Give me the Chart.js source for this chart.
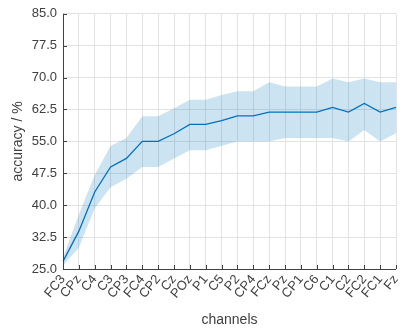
<!DOCTYPE html>
<html>
<head>
<meta charset="utf-8">
<script src="https://cdn.jsdelivr.net/npm/chart.js@4"></script>
<style>
  html, body { margin: 0; padding: 0; background: #fff; }
  #wrap { width: 414px; height: 329px; }
</style>
</head>
<body>
<div id="wrap"><canvas id="accChart" width="414" height="329"></canvas></div>
<script>
'use strict';

// Channels in the order they were added
const channels = [
  'FC3', 'CPz', 'C4', 'C3', 'CP3', 'FC4', 'CP2', 'Cz', 'POz', 'P1', 'C5',
  'P2', 'CP4', 'FCz', 'Pz', 'CP1', 'C6', 'C1', 'C2', 'FC2', 'FC1', 'Fz'
];

// Mean accuracy and the spread band around it
const meanAcc = [
  26.8, 33.9, 43.1, 49.0, 51.0, 55.0, 55.0, 56.8, 59.0, 59.0, 59.9,
  61.0, 61.0, 61.9, 61.9, 61.9, 61.9, 63.0, 61.9, 63.9, 61.9, 63.0
];
const upperAcc = [
  27.7, 37.8, 47.1, 53.9, 55.8, 60.9, 60.9, 62.8, 64.8, 64.8, 65.9,
  66.8, 66.8, 68.9, 67.9, 67.9, 67.9, 69.8, 68.9, 69.8, 68.9, 68.9
];
const lowerAcc = [
  25.8, 30.0, 39.3, 44.2, 46.2, 49.0, 49.0, 51.0, 52.9, 52.9, 54.0,
  55.0, 55.0, 55.0, 55.8, 55.8, 55.8, 55.8, 55.0, 57.7, 55.0, 56.9
];

const yTicks = [25, 32.5, 40, 47.5, 55, 62.5, 70, 77.5, 85];

const axisColor = '#404040';
const gridColor = '#e3e3e3';
const fontFamily = '"Liberation Sans", Arial, Helvetica, sans-serif';

// MATLAB style ticks point into the plot area
const inwardTicks = {
  id: 'inwardTicks',
  afterDraw(chart) {
    const ctx = chart.ctx;
    const area = chart.chartArea;
    const xs = chart.scales.x;
    const ys = chart.scales.y;
    ctx.save();
    ctx.strokeStyle = axisColor;
    ctx.lineWidth = 1;
    ctx.beginPath();
    xs.ticks.forEach((t, i) => {
      const px = Math.round(xs.getPixelForTick(i)) + 0.5;
      ctx.moveTo(px, area.bottom);
      ctx.lineTo(px, area.bottom - 4);
    });
    ys.ticks.forEach((t, i) => {
      const py = Math.round(ys.getPixelForTick(i)) + 0.5;
      ctx.moveTo(area.left, py);
      ctx.lineTo(area.left + 4, py);
    });
    // left and bottom axis lines
    ctx.moveTo(area.left + 0.5, area.top);
    ctx.lineTo(area.left + 0.5, area.bottom + 0.5);
    ctx.lineTo(area.right, area.bottom + 0.5);
    ctx.stroke();
    ctx.restore();
  }
};

new Chart(document.getElementById('accChart'), {
  type: 'line',
  data: {
    labels: channels,
    datasets: [
      {
        label: 'lower',
        data: lowerAcc,
        borderWidth: 0,
        pointRadius: 0,
        fill: false,
        tension: 0
      },
      {
        label: 'upper',
        data: upperAcc,
        borderWidth: 0,
        pointRadius: 0,
        backgroundColor: 'rgba(0, 114, 189, 0.2)',
        fill: '-1',
        tension: 0
      },
      {
        label: 'mean',
        data: meanAcc,
        borderColor: '#0072BD',
        borderWidth: 1.3,
        pointRadius: 0,
        fill: false,
        tension: 0
      }
    ]
  },
  options: {
    responsive: false,
    animation: false,
    events: [],
    layout: { padding: { top: 13, right: 18, left: 0, bottom: 0 } },
    plugins: {
      legend: { display: false },
      tooltip: { enabled: false }
    },
    scales: {
      x: {
        offset: false,
        grid: { color: gridColor, drawTicks: false },
        border: { display: false },
        ticks: {
          color: axisColor,
          font: { family: fontFamily, size: 13 },
          minRotation: 50,
          maxRotation: 50,
          autoSkip: false,
          padding: 3
        },
        title: {
          display: true,
          text: 'channels',
          color: axisColor,
          font: { family: fontFamily, size: 14 },
          padding: { top: 0, bottom: 0 }
        },
        afterFit(scale) { scale.height = 60; }
      },
      y: {
        min: 25,
        max: 85,
        afterBuildTicks(scale) {
          scale.ticks = yTicks.map(v => ({ value: v }));
        },
        grid: { color: gridColor, drawTicks: false },
        border: { display: false },
        ticks: {
          color: axisColor,
          font: { family: fontFamily, size: 13 },
          padding: 6,
          callback: v => Number(v).toFixed(1)
        },
        title: {
          display: true,
          text: 'accuracy / %',
          color: axisColor,
          font: { family: fontFamily, size: 14 },
          padding: { top: 10, bottom: 4 }
        },
        afterFit(scale) { scale.width = 63; }
      }
    }
  },
  plugins: [inwardTicks]
});
</script>
</body>
</html>
